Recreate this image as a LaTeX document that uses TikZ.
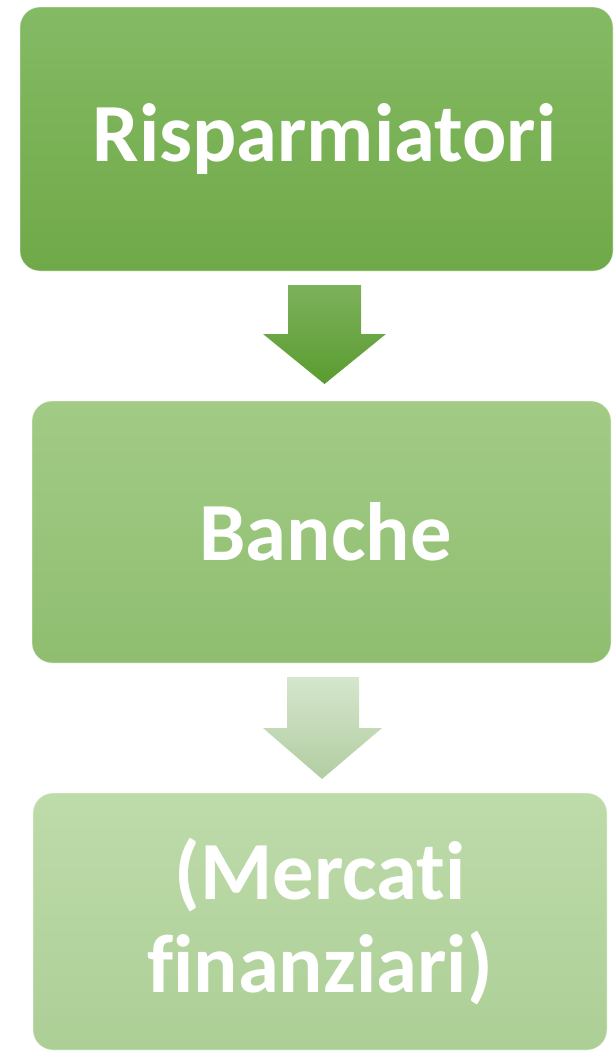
\documentclass[tikz,border=0pt]{standalone}
\usepackage{fontspec}
\setmainfont{Carlito}[Ligatures={NoCommon}]
\usetikzlibrary{positioning}

\definecolor{boxonetop}{RGB}{132,186,100}
\definecolor{boxonebot}{RGB}{112,169,72}
\definecolor{boxtwotop}{RGB}{162,203,134}
\definecolor{boxtwobot}{RGB}{143,190,112}
\definecolor{boxthreetop}{RGB}{190,219,170}
\definecolor{boxthreebot}{RGB}{172,207,150}
\definecolor{arrowonetop}{RGB}{125,177,92}
\definecolor{arrowonebot}{RGB}{90,156,48}
\definecolor{arrowtwotop}{RGB}{213,230,204}
\definecolor{arrowtwobot}{RGB}{178,205,162}

\tikzset{every picture/.style={line width=0.75pt},
  stage/.style={rounded corners=15pt, inner sep=0pt, align=center, text=white,
    font=\bfseries\fontsize{62}{70}\selectfont, draw=white, draw opacity=0.5, line width=0.6pt},
  gloss/.style={white, opacity=0.55, line width=2.2pt, line cap=round}}

\begin{document}
\begin{tikzpicture}[x=0.75pt,y=0.75pt,yscale=-1,xscale=1]
\useasboundingbox (0,0) rectangle (614,1053);

% Boxes
\node [stage, top color=boxonetop, bottom color=boxonebot, minimum width=444.75pt, minimum height=198pt] (rispar) at (316.5,139) {\hspace*{12pt}Risparmiatori};
\node [stage, top color=boxtwotop, bottom color=boxtwobot, minimum width=434.25pt, minimum height=196.5pt] (banche) at (321.5,532) {\hspace*{6pt}Banche};
\node [stage, top color=boxthreetop, bottom color=boxthreebot, minimum width=430.5pt, minimum height=192.75pt] (mercati) at (320,921.5) {(Mercati\\finanziari)};

% Gloss lines
\draw [gloss] ([xshift=16pt,yshift=-3.5pt]rispar.north west) -- ([xshift=-16pt,yshift=-3.5pt]rispar.north east);
\draw [gloss] ([xshift=16pt,yshift=-3.5pt]banche.north west) -- ([xshift=-16pt,yshift=-3.5pt]banche.north east);
\draw [gloss] ([xshift=16pt,yshift=-3.5pt]mercati.north west) -- ([xshift=-16pt,yshift=-3.5pt]mercati.north east);

% Block arrows
\shade [top color=arrowonetop, bottom color=arrowonebot] (288,285) -- (361,285) -- (361,334) -- (386,334) -- (324.5,384) -- (263,334) -- (288,334) -- cycle;
\shade [top color=arrowtwotop, bottom color=arrowtwobot] (287,677) -- (359,677) -- (359,728) -- (382,728) -- (322,779) -- (263,728) -- (287,728) -- cycle;

\end{tikzpicture}
\end{document}
